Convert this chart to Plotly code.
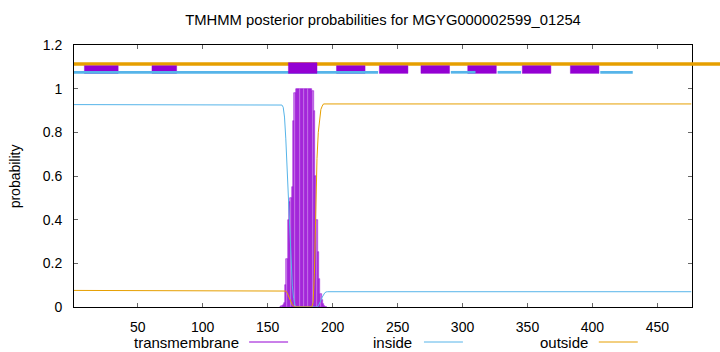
import plotly.graph_objects as go

# ---------------- data ----------------
title_text = "TMHMM posterior probabilities for MGYG000002599_01254"
x_range = [1, 476.6]
y_ticks = [0, 0.2, 0.4, 0.6, 0.8, 1, 1.2]
y_tick_labels = ["0", "0.2", "0.4", "0.6", "0.8", "1", "1.2"]
x_ticks = [50, 100, 150, 200, 250, 300, 350, 400, 450]

# transmembrane posterior (per residue, drawn as bars)
tm_x = [160, 161, 162, 163, 164, 165, 166, 167, 168, 169, 170, 171, 172, 173, 174,
        175, 176, 177, 178, 179, 180, 181, 182, 183, 184, 185, 186, 187, 188, 189,
        190, 191, 192, 193, 194, 195]
tm_y = [0.002, 0.005, 0.01, 0.02, 0.10, 0.22, 0.40, 0.48, 0.50, 0.55, 0.85, 0.98, 1.0, 1.0, 1.0,
        1.0, 1.0, 1.0, 1.0, 1.0, 1.0, 1.0, 1.0, 1.0, 1.0, 0.99, 0.90, 0.60, 0.40, 0.25,
        0.13, 0.06, 0.03, 0.012, 0.005, 0.002]

# inside posterior
inside_x = [1, 160, 161, 162, 163, 164, 165, 166, 167, 168, 169, 170, 171, 172, 188,
            189, 190, 191, 192, 193, 194, 195, 196, 476]
inside_y = [0.927, 0.927, 0.925, 0.915, 0.87, 0.77, 0.63, 0.50, 0.37, 0.22, 0.10, 0.04, 0.01, 0.0, 0.0,
            0.005, 0.015, 0.03, 0.045, 0.058, 0.065, 0.069, 0.07, 0.07]

# outside posterior
outside_x = [1, 163, 164, 165, 166, 167, 168, 169, 170, 171, 184, 185, 186, 187, 188,
             189, 190, 191, 192, 193, 476]
outside_y = [0.076, 0.076, 0.073, 0.065, 0.05, 0.035, 0.02, 0.01, 0.004, 0.0, 0.0, 0.02, 0.15, 0.45, 0.68,
             0.80, 0.87, 0.905, 0.92, 0.93, 0.93]

# top topology strip
strip_outside_y = 1.113
strip_outside_span = [1, 525]
strip_inside_y = 1.075
strip_inside_starts = [1, 291, 327, 406]
strip_inside_ends = [235, 310, 345, 431]
strip_box_starts = [9, 61, 203, 236, 268, 304, 346, 383]
strip_box_ends = [35, 80, 225, 258, 290, 326, 368, 405]
strip_box_bottom = 1.070
strip_box_top = 1.105
strip_tm_start = [166]
strip_tm_end = [188]
strip_tm_top = 1.119

legend_names = ["transmembrane", "inside", "outside"]

# ---------------- styles ----------------
PURPLE = "#9400d3"
BLUE = "#56b4e9"
ORANGE = "#e69f00"
FONT = "Liberation Sans, Arial, sans-serif"

fig = go.Figure()

fig.add_trace(go.Bar(
    x=tm_x, y=tm_y, width=1,
    marker=dict(color="rgba(148,0,211,0.5)", line=dict(color="rgba(148,0,211,0.85)", width=0.6)),
    showlegend=False, hoverinfo="skip"))
fig.add_trace(go.Scatter(x=inside_x, y=inside_y, mode="lines",
                         line=dict(color=BLUE, width=1), showlegend=False))
fig.add_trace(go.Scatter(x=outside_x, y=outside_y, mode="lines",
                         line=dict(color=ORANGE, width=1), showlegend=False))

def to_paper_x(v):
    return (v - x_range[0]) / (x_range[1] - x_range[0])

shapes = []
# outside line (extends beyond the plot to the right)
shapes.append(dict(type="line", xref="paper", yref="y",
                   x0=to_paper_x(strip_outside_span[0]), x1=to_paper_x(strip_outside_span[1]),
                   y0=strip_outside_y, y1=strip_outside_y,
                   line=dict(color=ORANGE, width=3.5)))
for a, b in zip(strip_box_starts, strip_box_ends):
    shapes.append(dict(type="rect", xref="x", yref="y", x0=a, x1=b,
                       y0=strip_box_bottom, y1=strip_box_top,
                       fillcolor=PURPLE, line=dict(color="rgba(148,0,211,0.45)", width=1)))
for a, b in zip(strip_inside_starts, strip_inside_ends):
    shapes.append(dict(type="line", xref="x", yref="y", x0=a, x1=b,
                       y0=strip_inside_y, y1=strip_inside_y,
                       line=dict(color=BLUE, width=2.7)))
for a, b in zip(strip_tm_start, strip_tm_end):
    shapes.append(dict(type="rect", xref="x", yref="y", x0=a, x1=b,
                       y0=strip_box_bottom, y1=strip_tm_top,
                       fillcolor=PURPLE, line=dict(color="rgba(148,0,211,0.45)", width=1)))

# manual legend (gnuplot style: text then sample line)
L_PX, R_PX, T_PX, B_PX = 73.7, 692.3, 45, 307
def px2paper_x(px):
    return (px - L_PX) / (R_PX - L_PX)
def px2paper_y(py):
    return (B_PX - py) / (B_PX - T_PX)

legend_text_right = [241, 414, 590]
legend_line = [(249, 288), (424, 463), (599, 638)]
legend_colors = [PURPLE, BLUE, ORANGE]
annotations = []
for name, tr, (l0, l1), c in zip(legend_names, legend_text_right, legend_line, legend_colors):
    annotations.append(dict(xref="paper", yref="paper", x=px2paper_x(tr), y=px2paper_y(342),
                            text=name, showarrow=False, xanchor="right", yanchor="middle",
                            font=dict(family=FONT, size=15, color="#000")))
    shapes.append(dict(type="line", xref="paper", yref="paper",
                       x0=px2paper_x(l0), x1=px2paper_x(l1),
                       y0=px2paper_y(342), y1=px2paper_y(342),
                       line=dict(color=c, width=1)))
annotations.append(dict(xref="paper", yref="paper", x=px2paper_x(15), y=0.5,
                        text="probability", textangle=-90, showarrow=False,
                        xanchor="center", yanchor="middle",
                        font=dict(family=FONT, size=14, color="#000")))

fig.update_layout(
    width=720, height=352,
    margin=dict(l=73.7, r=720 - 692.3, t=45, b=352 - 307),
    paper_bgcolor="white", plot_bgcolor="white",
    bargap=0,
    title=dict(text=title_text, x=0.532, xref="container", y=1 - 20 / 352, yref="container",
               xanchor="center", yanchor="middle",
               font=dict(family=FONT, size=14.8, color="#000")),
    font=dict(family=FONT, size=14, color="#000"),
    shapes=shapes, annotations=annotations,
    showlegend=False,
)
fig.update_xaxes(range=x_range, tickvals=x_ticks, ticks="inside", ticklen=4, tickcolor="#666",
                 showline=True, linecolor="#000", linewidth=1, mirror="allticks",
                 showgrid=False, zeroline=False, ticklabelstandoff=7,
                 tickfont=dict(family=FONT, size=14))
fig.update_yaxes(range=[0, 1.2], tickvals=y_ticks, ticktext=y_tick_labels, ticks="inside",
                 ticklen=4, tickcolor="#666",
                 showline=True, linecolor="#000", linewidth=1, mirror="allticks",
                 showgrid=False, zeroline=False, ticklabelstandoff=8,
                 tickfont=dict(family=FONT, size=14))

fig.write_html("out.html")
